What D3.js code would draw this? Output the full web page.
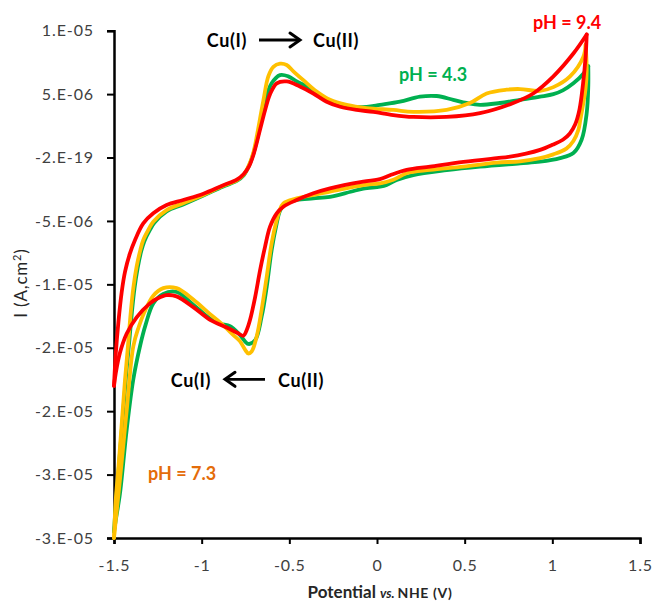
<!DOCTYPE html>
<html>
<head>
<meta charset="utf-8">
<script src="https://cdn.jsdelivr.net/npm/d3@7"></script>
<style>
  html, body { margin: 0; padding: 0; background: #ffffff; }
  svg { display: block; font-family: Lato, "Open Sans", "Liberation Sans", sans-serif; }
</style>
</head>
<body>
<svg id="chart" width="654" height="602"></svg>
<script>
// Cyclic voltammograms of the Cu complex at three pH values.
// Each point: [potential (V vs. NHE), current (µA)]; the axis is drawn in A.

// pH 4.3 — anodic (forward) and cathodic (reverse) sweeps
const ph43Forward = [
  [-1.5,-29.5],[-1.488,-27.0],[-1.47,-24.0],[-1.45,-20.5],[-1.43,-17.0],[-1.413,-14.5],
  [-1.398,-12.2],[-1.383,-10.3],[-1.365,-8.7],[-1.345,-7.4],[-1.327,-6.6],[-1.295,-5.7],
  [-1.27,-5.15],[-1.2,-4.25],[-1.105,-3.7],[-0.99,-3.0],[-0.88,-2.3],[-0.80,-1.85],
  [-0.76,-1.4],[-0.73,-0.65],[-0.705,0.3],[-0.676,1.9],[-0.638,4.5],[-0.601,5.85],
  [-0.553,6.5],[-0.506,6.4],[-0.458,6.0],[-0.401,5.6],[-0.325,4.95],[-0.249,4.3],
  [-0.154,4.0],[-0.059,4.0],[0.017,4.15],[0.131,4.4],[0.245,4.8],[0.34,4.85],
  [0.435,4.55],[0.511,4.3],[0.587,4.15],[0.701,4.3],[0.816,4.55],[0.93,4.8],
  [1.006,5.0],[1.06,5.3],[1.12,5.85],[1.177,6.6],[1.205,7.2]
];
const ph43Reverse = [
  [1.205,7.2],[1.205,5.6],[1.196,3.5],[1.167,1.4],[1.12,0.35],[1.044,-0.05],
  [0.93,-0.33],[0.816,-0.46],[0.587,-0.72],[0.397,-1.0],[0.207,-1.38],[0.112,-1.77],
  [0.055,-2.17],[0.017,-2.3],[-0.078,-2.45],[-0.15,-2.7],[-0.268,-3.1],[-0.363,-3.22],
  [-0.458,-3.35],[-0.534,-3.74],[-0.556,-4.3],[-0.572,-5.19],[-0.601,-7.3],[-0.629,-10.2],
  [-0.658,-12.55],[-0.695,-14.4],[-0.734,-14.7],[-0.781,-14.0],[-0.838,-13.3],
  [-0.895,-13.1],[-0.952,-12.7],[-1.048,-11.6],[-1.143,-10.6],[-1.219,-10.75],
  [-1.276,-11.5],[-1.32,-13.2],[-1.352,-14.9],[-1.39,-17.5],[-1.428,-21.5],
  [-1.466,-26.5],[-1.49,-28.6],[-1.5,-29.5]
];

// pH 7.3
const ph73Forward = [
  [-1.5,-30.0],[-1.49,-27.0],[-1.475,-24.5],[-1.456,-21.0],[-1.437,-17.5],[-1.42,-14.8],
  [-1.405,-12.3],[-1.39,-10.3],[-1.371,-8.6],[-1.35,-7.3],[-1.333,-6.5],[-1.3,-5.6],
  [-1.276,-5.06],[-1.2,-4.14],[-1.105,-3.6],[-0.99,-2.95],[-0.88,-2.25],[-0.80,-1.8],
  [-0.76,-1.35],[-0.73,-0.6],[-0.705,0.4],[-0.686,1.64],[-0.648,4.5],[-0.62,6.4],
  [-0.591,7.15],[-0.553,7.4],[-0.515,7.3],[-0.477,6.8],[-0.42,6.1],[-0.344,5.2],
  [-0.268,4.55],[-0.173,4.15],[-0.059,3.9],[0.093,3.75],[0.207,3.6],[0.397,3.75],
  [0.53,4.3],[0.625,5.05],[0.739,5.35],[0.816,5.4],[0.93,5.25],[1.006,5.55],
  [1.101,6.4],[1.177,7.95],[1.19,8.9]
];
const ph73Reverse = [
  [1.19,8.9],[1.196,6.9],[1.19,5.5],[1.177,4.3],[1.16,3.0],[1.149,2.2],[1.12,1.3],
  [1.08,0.7],[1.006,0.25],[0.93,-0.05],[0.816,-0.3],[0.683,-0.4],[0.493,-0.72],
  [0.303,-0.98],[0.169,-1.24],[0.093,-1.75],[0.017,-2.03],[-0.078,-2.17],[-0.268,-2.69],
  [-0.458,-3.22],[-0.534,-3.61],[-0.556,-4.2],[-0.572,-4.93],[-0.601,-6.77],[-0.629,-9.4],
  [-0.658,-12.0],[-0.686,-14.1],[-0.715,-15.3],[-0.734,-15.45],[-0.75,-15.2],
  [-0.781,-14.5],[-0.819,-14.0],[-0.895,-13.0],[-0.952,-12.35],[-1.048,-11.2],
  [-1.143,-10.3],[-1.219,-10.3],[-1.276,-10.9],[-1.33,-12.3],[-1.36,-13.4],
  [-1.39,-14.9],[-1.428,-20.0],[-1.466,-25.4],[-1.49,-28.6],[-1.5,-30.0]
];

// pH 9.4
const ph94Forward = [
  [-1.5,-18.0],[-1.49,-15.5],[-1.475,-13.0],[-1.456,-10.6],[-1.437,-9.0],[-1.41,-7.6],
  [-1.38,-6.5],[-1.333,-5.2],[-1.276,-4.4],[-1.2,-3.75],[-1.105,-3.35],[-0.99,-2.85],
  [-0.88,-2.2],[-0.80,-1.75],[-0.76,-1.3],[-0.73,-0.7],[-0.705,0.2],[-0.667,2.2],
  [-0.638,3.75],[-0.61,5.0],[-0.572,5.85],[-0.515,6.0],[-0.44,5.6],[-0.363,5.05],
  [-0.287,4.4],[-0.21,4.0],[-0.116,3.75],[-0.02,3.6],[0.093,3.35],[0.207,3.2],
  [0.397,3.2],[0.587,3.5],[0.777,4.3],[0.891,5.05],[1.006,6.4],[1.12,8.2],[1.196,9.7]
];
const ph94Reverse = [
  [1.196,9.7],[1.19,8.0],[1.175,5.8],[1.155,3.8],[1.13,2.6],[1.10,1.9],[1.06,1.4],
  [1.0,1.0],[0.93,0.6],[0.85,0.3],[0.75,0.05],[0.683,-0.05],[0.493,-0.35],
  [0.303,-0.72],[0.169,-0.98],[0.074,-1.4],[0.017,-1.7],[-0.078,-1.9],[-0.268,-2.43],
  [-0.363,-2.82],[-0.458,-3.35],[-0.534,-3.88],[-0.572,-4.4],[-0.61,-5.45],
  [-0.638,-7.0],[-0.667,-8.9],[-0.695,-11.0],[-0.724,-12.8],[-0.743,-13.6],
  [-0.762,-14.05],[-0.80,-13.8],[-0.857,-13.4],[-0.952,-12.8],[-1.048,-11.8],
  [-1.143,-10.95],[-1.2,-10.85],[-1.25,-11.1],[-1.295,-11.5],[-1.371,-12.6],
  [-1.428,-13.9],[-1.466,-15.4],[-1.49,-17.0],[-1.5,-18.0]
];

const seriesNames = ["pH = 4.3", "pH = 7.3", "pH = 9.4"];
const seriesColors = ["#00b050", "#ffc000", "#ff0000"];
const seriesSweeps = [[ph43Forward, ph43Reverse], [ph73Forward, ph73Reverse], [ph94Forward, ph94Reverse]];

const xTicks = [-1.5, -1, -0.5, 0, 0.5, 1, 1.5];
const xTickLabels = ["-1.5", "-1", "-0.5", "0", "0.5", "1", "1.5"];
const yTicks = [1e-5, 5e-6, 0, -5e-6, -1e-5, -1.5e-5, -2e-5, -2.5e-5, -3e-5];
const yTickLabels = ["1.E-05", "5.E-06", "-2.E-19", "-5.E-06", "-1.E-05", "-2.E-05", "-2.E-05", "-3.E-05", "-3.E-05"];

const svg = d3.select("#chart");

const x = d3.scaleLinear().domain([-1.5, 1.5]).range([114, 640]);
const y = d3.scaleLinear().domain([-3e-5, 1e-5]).range([538, 30.7]);

// axes
const yAxis = d3.axisLeft(y)
  .tickValues(yTicks)
  .tickFormat((d, i) => yTickLabels[i])
  .tickSizeOuter(0).tickSize(7).tickPadding(13);
const xAxis = d3.axisBottom(x)
  .tickValues(xTicks)
  .tickFormat((d, i) => xTickLabels[i])
  .tickSizeOuter(0).tickSize(6).tickPadding(16);

const gy = svg.append("g").attr("transform", `translate(${x.range()[0]},0)`).call(yAxis);
const gx = svg.append("g").attr("transform", `translate(0,${y.range()[0]})`).call(xAxis);

[gx, gy].forEach(g => {
  g.select(".domain").attr("stroke", "#000").attr("stroke-width", 2.5);
  g.selectAll(".tick line").attr("stroke", "#000").attr("stroke-width", 2);
  g.selectAll(".tick text")
    .attr("fill", "#404040")
    .style("font-size", "16px")
    .style("letter-spacing", "0.9px")
    .style("font-family", "Lato, 'Open Sans', sans-serif");
});

// voltammograms
const line = d3.line()
  .x(d => x(d[0]))
  .y(d => y(d[1] * 1e-6))
  .curve(d3.curveCatmullRom.alpha(0.5));

const plot = svg.append("g");
seriesSweeps.forEach((sweeps, i) => {
  sweeps.forEach(sweep => {
    plot.append("path")
      .datum(sweep)
      .attr("d", line)
      .attr("fill", "none")
      .attr("stroke", seriesColors[i])
      .attr("stroke-width", 3.8)
      .attr("stroke-linejoin", "round")
      .attr("stroke-linecap", "round");
  });
});

// axis titles
svg.append("text")
  .attr("transform", "translate(27,283) rotate(-90)")
  .attr("text-anchor", "middle")
  .attr("fill", "#262626")
  .style("font-size", "17px")
  .style("letter-spacing", "0.8px")
  .html('I (A,cm<tspan dy="-6" style="font-size:11px">2</tspan><tspan dy="6">)</tspan>');

const xt = svg.append("text")
  .attr("x", 380).attr("y", 598)
  .attr("text-anchor", "middle")
  .attr("fill", "#262626")
  .style("font-weight", "bold");
xt.append("tspan").style("font-size", "17px").text("Potential ");
xt.append("tspan").style("font-size", "13px").style("font-style", "italic").text("vs. ");
xt.append("tspan").style("font-size", "14px").style("letter-spacing", "0.6px").text("NHE (V)");

// redox annotations
const arrowHead = (g, x0, y0, dir) => {
  g.append("path")
    .attr("d", `M${x0 - dir * 10},${y0 - 7} L${x0},${y0} L${x0 - dir * 10},${y0 + 7}`)
    .attr("fill", "none").attr("stroke", "#000").attr("stroke-width", 3)
    .attr("stroke-linejoin", "miter").attr("stroke-linecap", "round");
};
const ann = svg.append("g").style("font-size", "18px").style("font-weight", "bold").attr("fill", "#000");

ann.append("text").attr("x", 247).attr("y", 46.5).attr("text-anchor", "end").style("letter-spacing", "0.6px").text("Cu(I)");
ann.append("line").attr("x1", 259).attr("x2", 299).attr("y1", 40).attr("y2", 40).attr("stroke", "#000").attr("stroke-width", 2.8);
arrowHead(ann, 300, 40, 1);
ann.append("text").attr("x", 313).attr("y", 46.5).style("letter-spacing", "0.6px").text("Cu(II)");

ann.append("text").attr("x", 211).attr("y", 386.5).attr("text-anchor", "end").style("letter-spacing", "0.6px").text("Cu(I)");
ann.append("line").attr("x1", 265).attr("x2", 226).attr("y1", 379.3).attr("y2", 379.3).attr("stroke", "#000").attr("stroke-width", 2.8);
arrowHead(ann, 225, 379.3, -1);
ann.append("text").attr("x", 278).attr("y", 386.5).style("letter-spacing", "0.6px").text("Cu(II)");

// pH labels
const phLabels = svg.append("g").style("font-size", "18px").style("font-weight", "bold");
phLabels.append("text").attr("x", 533).attr("y", 28.5).attr("fill", "#ff0000").text(seriesNames[2]);
phLabels.append("text").attr("x", 399).attr("y", 81).attr("fill", "#00b050").text(seriesNames[0]);
phLabels.append("text").attr("x", 148).attr("y", 479.5).attr("fill", "#e46c0a").text(seriesNames[1]);
</script>
</body>
</html>
